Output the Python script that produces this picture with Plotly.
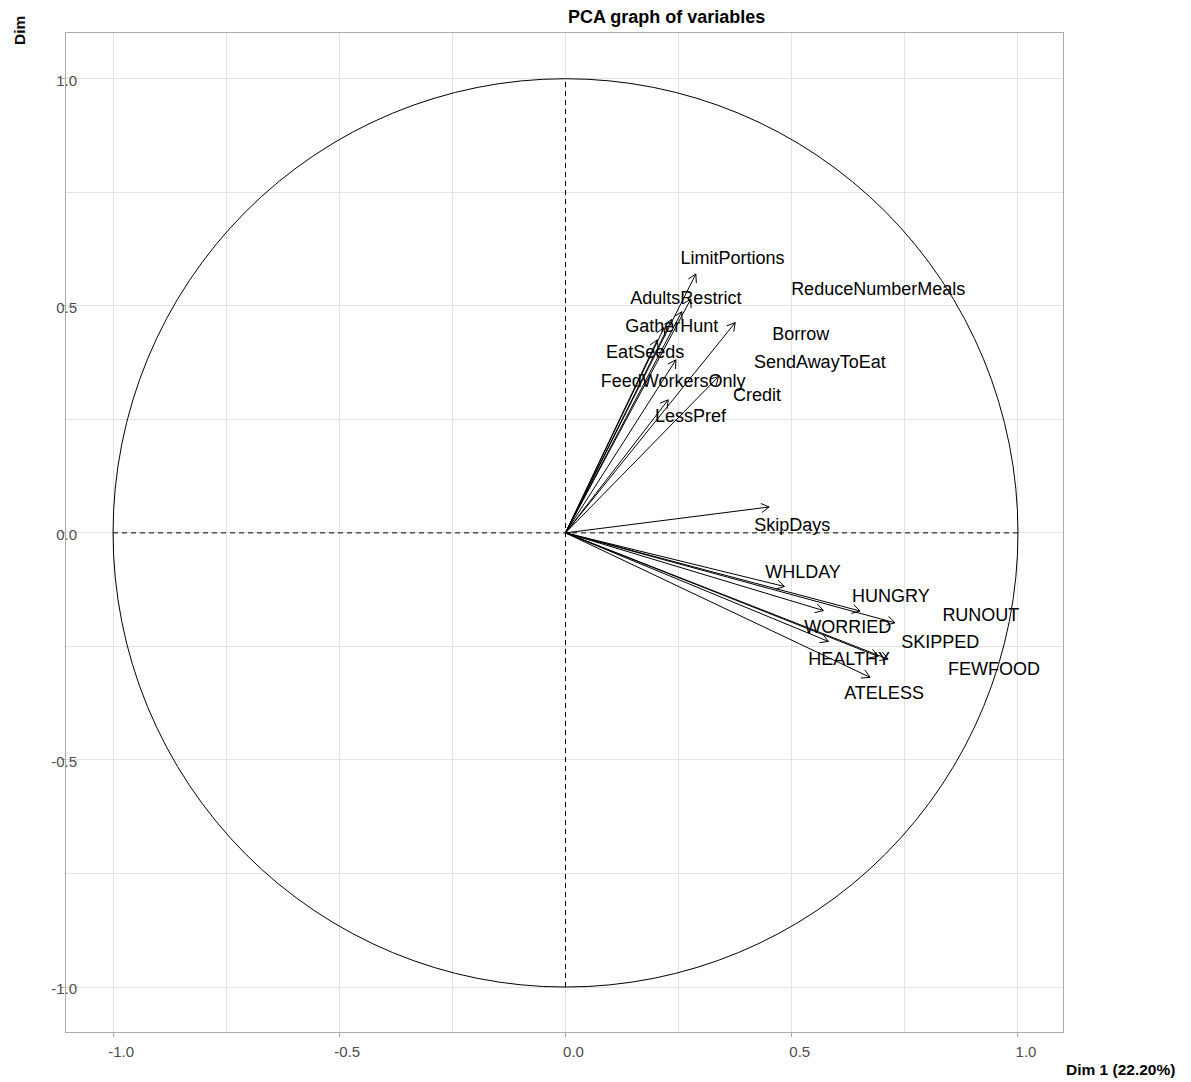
import numpy as np
import plotly.graph_objects as go

# ---------------- data ----------------
variables = ["LimitPortions", "AdultsRestrict", "GatherHunt", "EatSeeds", "FeedWorkersOnly",
             "LessPref", "ReduceNumberMeals", "Borrow", "SendAwayToEat", "Credit",
             "SkipDays", "WHLDAY", "HUNGRY", "WORRIED", "RUNOUT", "HEALTHY", "SKIPPED",
             "FEWFOOD", "ATELESS"]
dim1 = [0.288, 0.277, 0.257, 0.203, 0.244, 0.227, 0.375, 0.338, 0.218, 0.235,
        0.450, 0.484, 0.651, 0.570, 0.728, 0.581, 0.713, 0.691, 0.673]
dim2 = [0.570, 0.515, 0.487, 0.425, 0.381, 0.293, 0.463, 0.344, 0.452, 0.470,
        0.057, -0.118, -0.172, -0.171, -0.198, -0.239, -0.278, -0.272, -0.318]
# repelled label positions (data coordinates)
label_x = [0.369, 0.266, 0.235, 0.176, 0.238, 0.276, 0.691, 0.520, 0.562, 0.423,
           0.501, 0.525, 0.719, 0.624, 0.918, 0.627, 0.828, 0.947, 0.704]
label_y = [0.601, 0.513, 0.452, 0.394, 0.331, 0.255, 0.534, 0.434, 0.372, 0.300,
           0.014, -0.090, -0.143, -0.211, -0.184, -0.281, -0.244, -0.303, -0.355]
tick_vals = [-1.0, -0.5, 0.0, 0.5, 1.0]
tick_text = ["-1.0", "-0.5", "0.0", "0.5", "1.0"]
x_title = "Dim 1 (22.20%)"
y_title = "Dim"
title = "PCA graph of variables"

# ---------------- figure ----------------
OFF = 8  # page body margin
W, H = 1191 - OFF, 1082 - OFF
ML, MR, MT, MB = 66 - OFF, 128, 33 - OFF, 50
PW, PH = W - ML - MR, H - MT - MB
XR = [-1.104, 1.0995]
YR = [-1.099, 1.1007]


def px_x(px):  # page pixel -> paper x
    return (px - OFF - ML) / PW


def px_y(py):  # page pixel -> paper y
    return 1 - (py - OFF - MT) / PH


head_len = 0.02
head_ang = np.deg2rad(30)
xs, ys = [], []
for x, y in zip(dim1, dim2):
    xs += [0, x, None]
    ys += [0, y, None]
    th = np.arctan2(y, x)
    xs += [x - head_len * np.cos(th + head_ang), x, x - head_len * np.cos(th - head_ang), None]
    ys += [y - head_len * np.sin(th + head_ang), y, y - head_len * np.sin(th - head_ang), None]

fig = go.Figure()
fig.add_trace(go.Scatter(x=xs, y=ys, mode="lines", line=dict(color="black", width=1),
                         hoverinfo="skip", showlegend=False))
fig.add_trace(go.Scatter(x=label_x, y=label_y, mode="text", text=variables,
                         textfont=dict(family="Liberation Sans, Arial", size=18, color="black"),
                         textposition="middle center", hoverinfo="skip", showlegend=False))

# unit circle and dashed axes
fig.add_shape(type="circle", x0=-1, y0=-1, x1=1, y1=1, xref="x", yref="y",
              line=dict(color="black", width=1))
fig.add_shape(type="line", x0=-1, y0=0, x1=1, y1=0, xref="x", yref="y",
              line=dict(color="black", width=1, dash="5px,4px"))
fig.add_shape(type="line", x0=0, y0=-1, x1=0, y1=1, xref="x", yref="y",
              line=dict(color="black", width=1, dash="5px,4px"))

grid = "#E3E3E3"
border = "#ABABAB"
axis_common = dict(
    showgrid=True, gridcolor=grid, gridwidth=1,
    minor=dict(dtick=0.25, showgrid=True, gridcolor=grid, gridwidth=1, ticks=""),
    zeroline=False, showline=True, linecolor=border, linewidth=1, mirror=True,
    tickvals=tick_vals, ticktext=tick_text,
    ticks="outside", ticklen=4, tickcolor=border,
    tickfont=dict(family="Liberation Sans, Arial", size=15, color="#4D4D4D"),
)
fig.update_xaxes(range=XR, ticklabelshift=8, ticklabelstandoff=2, **axis_common)
fig.update_yaxes(range=YR, ticklabelstandoff=-19, ticklabelshift=2, **axis_common)

fig.update_layout(
    width=W, height=H,
    margin=dict(l=ML, r=MR, t=MT, b=MB),
    plot_bgcolor="white", paper_bgcolor="white",
    showlegend=False,
    annotations=[
        dict(text="<b>%s</b>" % title, xref="paper", yref="paper",
             x=px_x(666), y=px_y(17),
             xanchor="center", yanchor="middle", showarrow=False,
             font=dict(family="Liberation Sans, Arial", size=18, color="black")),
        dict(text="<b>%s</b>" % x_title, xref="paper", yref="paper",
             x=px_x(1120), y=px_y(1069),
             xanchor="center", yanchor="middle", showarrow=False,
             font=dict(family="Liberation Sans, Arial", size=15.5, color="black")),
        dict(text="<b>%s</b>" % y_title, xref="paper", yref="paper",
             x=px_x(19), y=px_y(31),
             xanchor="center", yanchor="middle", showarrow=False, textangle=-90,
             font=dict(family="Liberation Sans, Arial", size=15.5, color="black")),
    ],
)

fig.write_html("out.html")
